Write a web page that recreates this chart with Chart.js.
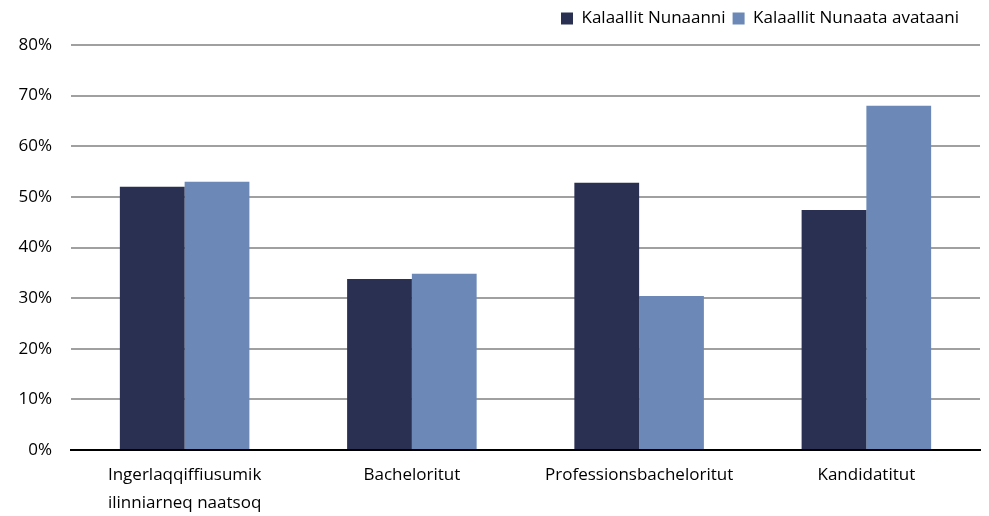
<!DOCTYPE html>
<html>
<head>
<meta charset="utf-8">
<script src="https://cdn.jsdelivr.net/npm/chart.js@4"></script>
<style>
  html, body { margin: 0; padding: 0; background: #fff; }
  #wrap { width: 989px; height: 516px; }
</style>
</head>
<body>
<div id="wrap"><canvas id="chart" width="989" height="516"></canvas></div>
<script>
const categories = [
  ["Ingerlaqqiffiusumik", "ilinniarneq naatsoq"],
  "Bacheloritut",
  "Professionsbacheloritut",
  "Kandidatitut",
];
const seriesNames = ["Kalaallit Nunaanni", "Kalaallit Nunaata avataani"];
const greenlandValues = [52.0, 33.8, 52.8, 47.4];
const abroadValues = [53.0, 34.8, 30.4, 68.0];
const yTicks = [0, 10, 20, 30, 40, 50, 60, 70, 80];

const FONT = "'Open Sans', Lato, sans-serif";

// extra room under the legend, and pull it in from the right edge
const legendSpacing = {
  id: "legendSpacing",
  beforeInit(chart) {
    const fit = chart.legend.fit;
    chart.legend.fit = function () {
      fit.bind(chart.legend)();
      this.height += 8;
    };
  },
  afterLayout(chart) {
    chart.legend.right -= 14;
  },
};

const ctx = document.getElementById("chart").getContext("2d");
new Chart(ctx, {
  type: "bar",
  data: {
    labels: categories,
    datasets: [
      {
        label: seriesNames[0],
        data: greenlandValues,
        backgroundColor: "#2a3052",
        categoryPercentage: 0.57,
        barPercentage: 1,
      },
      {
        label: seriesNames[1],
        data: abroadValues,
        backgroundColor: "#6b88b6",
        categoryPercentage: 0.57,
        barPercentage: 1,
      },
    ],
  },
  options: {
    responsive: false,
    animation: false,
    layout: { padding: { left: 0, right: 9, top: 3, bottom: 0 } },
    plugins: {
      tooltip: { enabled: false },
      legend: {
        position: "top",
        align: "end",
        labels: {
          boxWidth: 12,
          boxHeight: 12,
          padding: 7,
          color: "#000",
          font: { family: FONT, size: 17 },
        },
      },
    },
    scales: {
      x: {
        grid: { display: false },
        border: { display: true, color: "#000", width: 2 },
        afterFit: (scale) => {
          scale.height = 66;
        },
        ticks: {
          color: "#000",
          font: { family: FONT, size: 17, lineHeight: 1.65 },
          padding: 3,
          maxRotation: 0,
          autoSkip: false,
        },
      },
      y: {
        min: 0,
        max: 80,
        afterBuildTicks: (scale) => {
          scale.ticks = yTicks.map((v) => ({ value: v }));
        },
        afterFit: (scale) => {
          scale.width = 71;
        },
        grid: {
          color: (c) => (c.tick && c.tick.value === 0 ? "#000" : "#a0a0a0"),
          lineWidth: 2,
          drawTicks: false,
        },
        border: { display: false },
        ticks: {
          color: "#000",
          font: { family: FONT, size: 17 },
          padding: 19,
          callback: (v) => v + "%",
        },
      },
    },
  },
  plugins: [legendSpacing],
});
</script>
</body>
</html>
